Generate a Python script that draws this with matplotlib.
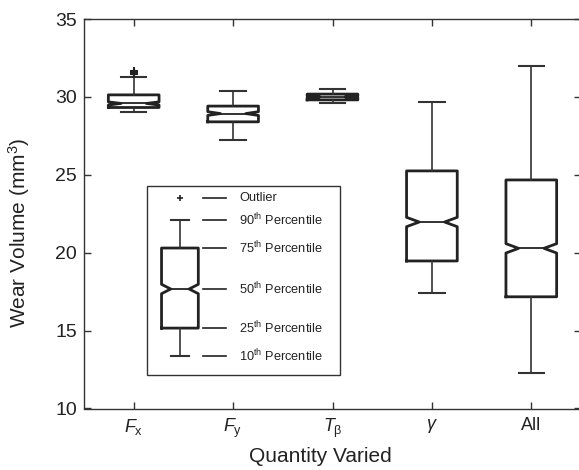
import numpy as np
import matplotlib.pyplot as plt
from matplotlib.patches import Rectangle

plt.rcParams['font.family'] = ['Liberation Sans', 'DejaVu Sans']
plt.rcParams['mathtext.fontset'] = 'custom'
plt.rcParams['mathtext.rm'] = 'Liberation Sans'
plt.rcParams['mathtext.it'] = 'Liberation Sans:italic'

# data
labels = [r'$F_\mathrm{x}$', r'$F_\mathrm{y}$', r'$T_\mathrm{\beta}$', r'$\gamma$', 'All']
whislo = [29.06, 27.22, 29.62, 17.41, 12.3]
q1 = [29.32, 28.40, 29.81, 19.47, 17.17]
med = [29.58, 28.93, 30.0, 21.97, 20.28]
q3 = [30.13, 29.41, 30.18, 25.25, 24.67]
whishi = [31.30, 30.39, 30.50, 29.70, 32.0]
outliers = [[31.45, 31.55, 31.65], [], [], [], []]
notch_half = [0.1, 0.12, 0.05, 0.3, 0.3]

# schematic legend (main-axes data units)
leg_levels = [23.52, 22.1, 20.3, 17.67, 15.16, 13.37]
leg_text = ['Outlier', r'90$^\mathrm{th}$ Percentile', r'75$^\mathrm{th}$ Percentile',
            r'50$^\mathrm{th}$ Percentile', r'25$^\mathrm{th}$ Percentile', r'10$^\mathrm{th}$ Percentile']

dark = '#222222'
fig = plt.figure(figsize=(5.79, 4.70), dpi=100)
ax = fig.add_axes([84 / 579, 61.5 / 470, (581 - 84) / 579, (408.5 - 19) / 470])

stats = []
for i in range(5):
    stats.append(dict(med=med[i], q1=q1[i], q3=q3[i], whislo=whislo[i], whishi=whishi[i],
                      fliers=outliers[i], cilo=med[i] - notch_half[i], cihi=med[i] + notch_half[i]))

style = dict(
    boxprops=dict(color=dark, linewidth=2.0),
    whiskerprops=dict(color='#333333', linewidth=1.2),
    capprops=dict(color='#333333', linewidth=1.5),
    medianprops=dict(color=dark, linewidth=1.3),
    flierprops=dict(marker='+', markeredgecolor=dark, markersize=6, markeredgewidth=1.5),
)
ax.bxp(stats, positions=np.arange(1, 6), widths=0.51, shownotches=True, **style)

# legend box
ax.add_patch(Rectangle((1.13, 12.15), 3.08 - 1.13, 24.25 - 12.15, fill=False,
                       edgecolor='#333333', linewidth=1.0, zorder=3))
leg_stats = [dict(med=leg_levels[3], q1=leg_levels[4], q3=leg_levels[2],
                  whislo=leg_levels[5], whishi=leg_levels[1], fliers=[leg_levels[0]],
                  cilo=leg_levels[3] - 0.3, cihi=leg_levels[3] + 0.3)]
ax.bxp(leg_stats, positions=[1.465], widths=0.37, shownotches=True, manage_ticks=False,
       **dict(style, flierprops=dict(marker='+', markeredgecolor=dark, markersize=5,
                                     markeredgewidth=1.2)))
for y, t in zip(leg_levels, leg_text):
    ax.plot([1.70, 1.93], [y, y], color=dark, linewidth=1.2)
    ax.text(2.06, y, t, fontsize=9.2, va='center', ha='left', color='#222222')

ax.set_xlim(0.5, 5.5)
ax.set_ylim(10, 35)
ax.set_yticks([10, 15, 20, 25, 30, 35])
ax.set_xticks(np.arange(1, 6))
ax.set_xticklabels(labels)
ax.tick_params(direction='in', top=True, right=True, length=5, width=1.0,
               color='#333333', labelcolor='#222222')
ax.tick_params(axis='y', labelsize=14, pad=5)
ax.tick_params(axis='x', labelsize=13, pad=6)
for s in ax.spines.values():
    s.set_color('#333333')
    s.set_linewidth(1.0)
ax.set_xlabel('Quantity Varied', fontsize=15, color='#222222')
ax.set_ylabel(r'Wear Volume (mm$^3$)', fontsize=15, color='#222222')
ax.xaxis.set_label_coords(0.475, -0.098)
ax.yaxis.set_label_coords(-0.105, 0.45)

fig.savefig('out.png', dpi=100)
